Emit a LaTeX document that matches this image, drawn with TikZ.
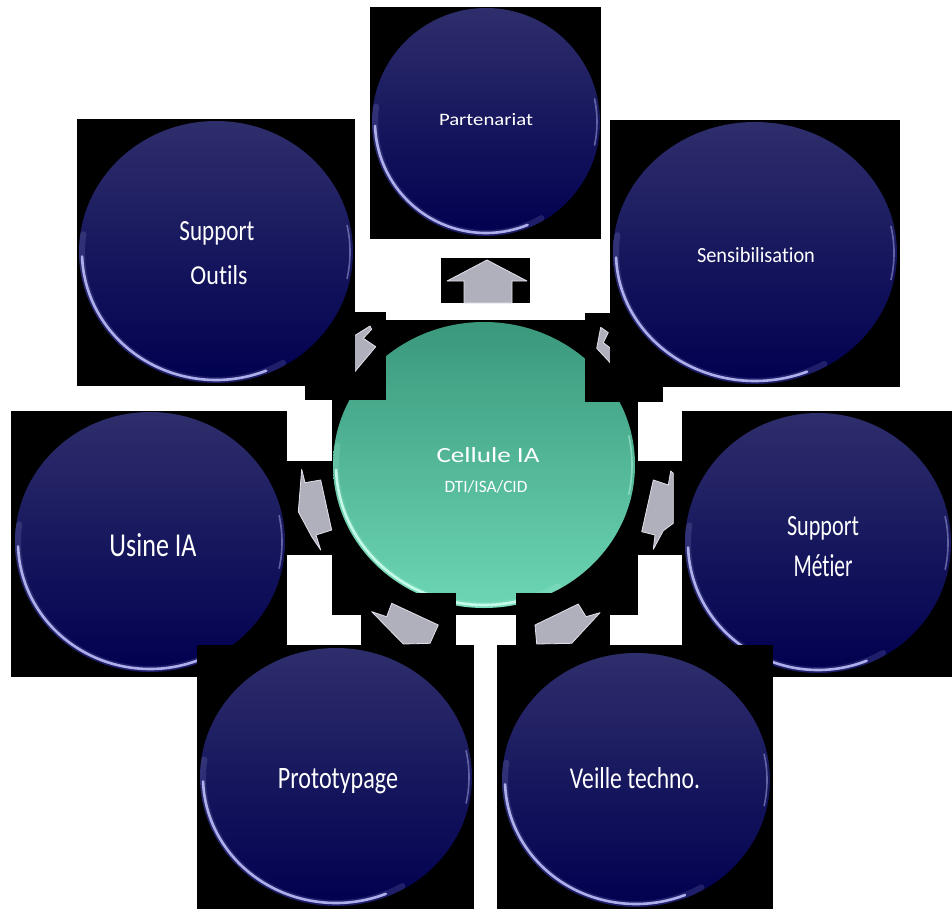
\documentclass[tikz,border=0pt]{standalone}
\usepackage{fontspec}
\setmainfont{Carlito}[Ligatures={NoCommon}]
\usepackage{graphicx}
\usetikzlibrary{shapes.geometric}
\definecolor{navyT}{RGB}{46,46,108}
\definecolor{navyM}{RGB}{16,16,90}
\definecolor{navyB}{RGB}{0,0,80}
\definecolor{rimc}{RGB}{190,190,250}
\definecolor{tealT}{RGB}{58,152,124}
\definecolor{tealM}{RGB}{72,184,146}
\definecolor{tealB}{RGB}{108,214,180}
\definecolor{tealRim}{RGB}{205,255,238}
\definecolor{arrowGray}{RGB}{176,176,188}
\definecolor{arrowEdge}{RGB}{225,225,235}
\newcommand{\lbl}[3]{\resizebox{#1pt}{#2pt}{#3}}
% one arc of an ellipse: start, end, rx, ry, options
\newcommand{\earc}[5]{\draw[#5] (#1:#3pt and #4pt) arc[start angle=#1,end angle=#2,x radius=#3pt,y radius=#4pt];}
% cx, cy, rx, ry (inner radii), colour
\newcommand{\glossrim}[5]{%
  \begin{scope}[shift={(#1,#2)}]
    \earc{172}{300}{#3}{#4}{#5, line width=6pt, opacity=0.15, line cap=round}
    \earc{182}{292}{#3}{#4}{#5, line width=2.6pt, opacity=0.9, line cap=round}
    \earc{-12}{12}{#3}{#4}{#5, line width=1.6pt, opacity=0.45, line cap=round}
  \end{scope}}
\tikzset{
  blackbox/.style={fill=black},
  bubble/.style={ellipse, inner sep=0pt, outer sep=0pt, top color=navyT, middle color=navyM, bottom color=navyB},
  hub/.style={ellipse, inner sep=0pt, outer sep=0pt, top color=tealT, middle color=tealM, bottom color=tealB},
  txt/.style={inner sep=0pt, outer sep=0pt, text=white, anchor=base},
  blockarrow/.style={fill=arrowGray, draw=arrowEdge, line width=0.8pt, line join=round}
}
\begin{document}
\begin{tikzpicture}[x=1pt,y=1pt]
\useasboundingbox[fill=white] (0,0) rectangle (952,-909);

% centre block
\fill[blackbox] (332,-320) rectangle (638,-615);
\node[hub, minimum width=302pt, minimum height=286pt] (hub) at (484,-465) {};
\glossrim{484}{-465}{148}{140}{tealRim}

% arrow backgrounds
\fill[blackbox] (441,-258) rectangle (530,-303);
\fill[blackbox] (305,-312) rectangle (386,-400);
\fill[blackbox] (585,-313) rectangle (663,-402);
\fill[blackbox] (287,-461) rectangle (333,-555);
\fill[blackbox] (635,-461) rectangle (683,-555);
\fill[blackbox] (361,-593) rectangle (456,-645);
\fill[blackbox] (516,-593) rectangle (610,-645);

% arrows
\filldraw[blockarrow] (487,-260) -- (527,-281) -- (512,-281) -- (512,-303) -- (464,-303) -- (464,-281) -- (447,-281) -- cycle;
\filldraw[blockarrow] (354,-336) -- (370,-326) -- (371.7,-329.3) -- (363.3,-338.3) -- (375.7,-346.7) -- (354,-372.7) -- cycle;
\filldraw[blockarrow] (600.7,-327.3) -- (608.3,-332.7) -- (603.3,-342.7) -- (610.7,-348.3) -- (610.7,-363.3) -- (596.7,-348.3) -- cycle;
\filldraw[blockarrow] (301.7,-469.3) -- (305,-482.7) -- (320.7,-480) -- (331.7,-530) -- (316,-535) -- (320.7,-550) -- (311.7,-536.7) -- (298.3,-511.7) -- cycle;
\filldraw[blockarrow] (653.3,-480) -- (668.3,-485) -- (670.7,-471) -- (673.3,-473.3) -- (673.3,-523.3) -- (663.3,-530.7) -- (653.3,-549.3) -- (655,-535) -- (641.7,-531.7) -- cycle;
\filldraw[blockarrow] (391.7,-603.3) -- (438.3,-625) -- (430,-643.3) -- (403.3,-644) -- (371.7,-611.7) -- (386.7,-616.7) -- cycle;
\filldraw[blockarrow] (535,-625) -- (578.3,-604) -- (586,-616.7) -- (600,-612.7) -- (571.7,-643.3) -- (536.7,-644) -- cycle;

% outer blocks
\fill[blackbox] (370,-7) rectangle (601,-239);
\node[bubble, minimum width=228pt, minimum height=228pt] (part) at (486,-122) {};
\glossrim{486}{-122}{111}{111}{rimc}

\fill[blackbox] (610,-120) rectangle (900,-387);
\node[bubble, minimum width=284pt, minimum height=262pt] (sens) at (755,-253) {};
\glossrim{755}{-253}{139}{128}{rimc}

\fill[blackbox] (77,-119) rectangle (355,-386);
\node[bubble, minimum width=274pt, minimum height=262pt] (outi) at (216,-252) {};
\glossrim{216}{-252}{134}{128}{rimc}

\fill[blackbox] (11,-411) rectangle (287,-677);
\node[bubble, minimum width=270pt, minimum height=260pt] (usine) at (150,-542) {};
\glossrim{150}{-542}{132}{127}{rimc}

\fill[blackbox] (682,-411) rectangle (952,-677);
\node[bubble, minimum width=266pt, minimum height=260pt] (metier) at (818,-543) {};
\glossrim{818}{-543}{130}{127}{rimc}

\fill[blackbox] (197,-645) rectangle (474,-909);
\node[bubble, minimum width=272pt, minimum height=258pt] (proto) at (336,-777) {};
\glossrim{336}{-777}{133}{126}{rimc}

\fill[blackbox] (497,-645) rectangle (773,-909);
\node[bubble, minimum width=268pt, minimum height=254pt] (veille) at (636,-780) {};
\glossrim{636}{-780}{131}{124}{rimc}

% labels
\node[txt] (tpart) at (486,-126) {\lbl{94}{12}{Partenariat}};
\node[txt] (tsens) at (756,-262) {\lbl{118}{15}{Sensibilisation}};
\node[txt] (touti1) at (217,-241) {\lbl{75}{19}{Support}};
\node[txt] (touti2) at (219,-284) {\lbl{57}{19}{Outils}};
\node[txt] (tusine) at (153,-556) {\lbl{87}{23}{Usine IA}};
\node[txt] (tmet1) at (823,-535) {\lbl{72}{19}{Support}};
\node[txt] (tmet2) at (823,-576) {\lbl{59}{22}{Métier}};
\node[txt] (tproto) at (338,-788) {\lbl{120}{20}{Prototypage}};
\node[txt] (tveille) at (635,-788) {\lbl{130}{21}{Veille techno.}};
\node[txt] (thub1) at (488,-462) {\lbl{103}{15}{Cellule IA}};
\node[txt] (thub2) at (486,-492) {\lbl{83}{12}{DTI/ISA/CID}};
\end{tikzpicture}
\end{document}
